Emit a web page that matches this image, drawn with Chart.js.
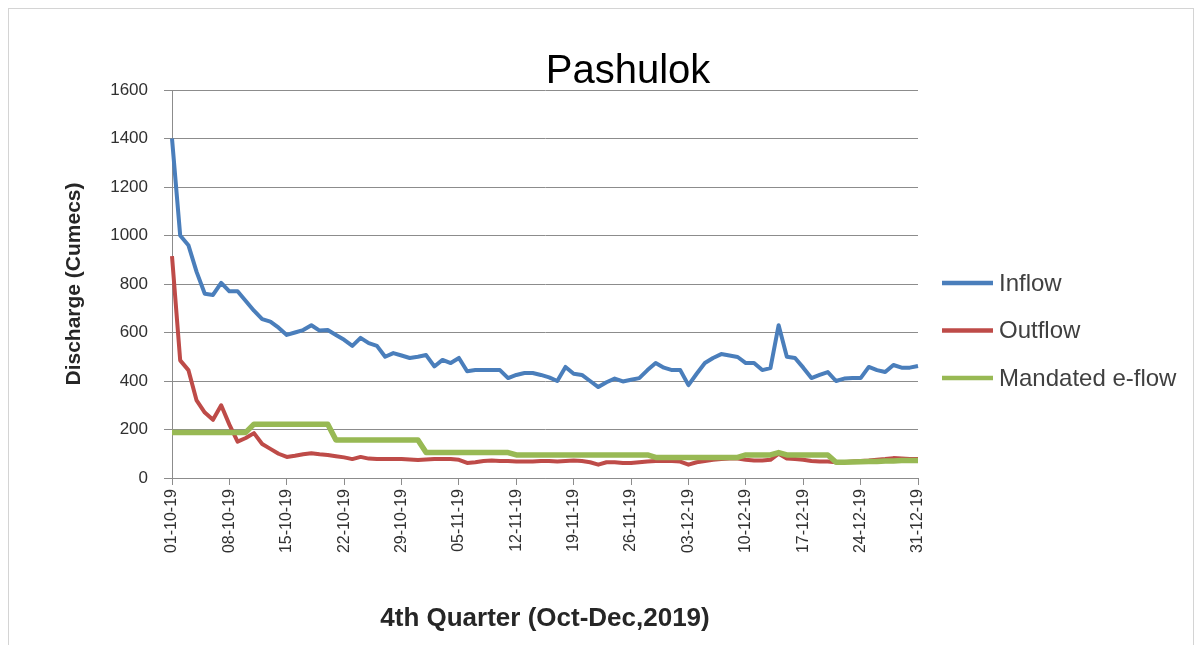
<!DOCTYPE html>
<html>
<head>
<meta charset="utf-8">
<title>Pashulok</title>
<script src="https://cdn.jsdelivr.net/npm/chart.js@4.4.0/dist/chart.umd.min.js"></script>
<style>
  html, body { margin: 0; padding: 0; background: #fff; }
  .chart__container { position: relative; width: 1203px; height: 645px; }
  .chart__frame {
    position: absolute; left: 8px; top: 8px; width: 1186px; height: 645px;
    border: 1px solid #d4d4d4; box-sizing: border-box; pointer-events: none;
  }
</style>
</head>
<body>
<div class="chart__container">
  <canvas id="chart__1" width="1203" height="645"></canvas>
  <div class="chart__frame"></div>
</div>
<script>
"use strict";

// ** Data (cumecs per day)
const dates = [
  "01-10-19", "02-10-19", "03-10-19", "04-10-19", "05-10-19", "06-10-19", "07-10-19",
  "08-10-19", "09-10-19", "10-10-19", "11-10-19", "12-10-19", "13-10-19", "14-10-19",
  "15-10-19", "16-10-19", "17-10-19", "18-10-19", "19-10-19", "20-10-19", "21-10-19",
  "22-10-19", "23-10-19", "24-10-19", "25-10-19", "26-10-19", "27-10-19", "28-10-19",
  "29-10-19", "30-10-19", "31-10-19", "01-11-19", "02-11-19", "03-11-19", "04-11-19",
  "05-11-19", "06-11-19", "07-11-19", "08-11-19", "09-11-19", "10-11-19", "11-11-19",
  "12-11-19", "13-11-19", "14-11-19", "15-11-19", "16-11-19", "17-11-19", "18-11-19",
  "19-11-19", "20-11-19", "21-11-19", "22-11-19", "23-11-19", "24-11-19", "25-11-19",
  "26-11-19", "27-11-19", "28-11-19", "29-11-19", "30-11-19", "01-12-19", "02-12-19",
  "03-12-19", "04-12-19", "05-12-19", "06-12-19", "07-12-19", "08-12-19", "09-12-19",
  "10-12-19", "11-12-19", "12-12-19", "13-12-19", "14-12-19", "15-12-19", "16-12-19",
  "17-12-19", "18-12-19", "19-12-19", "20-12-19", "21-12-19", "22-12-19", "23-12-19",
  "24-12-19", "25-12-19", "26-12-19", "27-12-19", "28-12-19", "29-12-19", "30-12-19",
  "31-12-19",
];

const inflow = [
  1400, 1000, 960, 850, 760, 755, 805, 770, 770, 730,
  690, 655, 645, 620, 590, 600, 610, 630, 608, 610,
  590, 570, 545, 578, 556, 545, 500, 515, 505, 495,
  500, 507, 460, 487, 474, 495, 440, 445, 445, 445,
  445, 412, 425, 433, 433, 425, 415, 400, 458, 430,
  425, 400, 375, 395, 410, 398, 405, 412, 445, 474,
  455, 445, 445, 383, 430, 474, 495, 511, 505, 499,
  474, 474, 445, 453, 630, 500, 495, 455, 412, 425,
  437, 400, 410, 412, 412, 458, 445, 437, 466, 455,
  455, 462,
];

const outflow = [
  915, 485, 445, 320, 270, 240, 300, 220, 150, 165,
  185, 140, 120, 100, 87, 92, 98, 102, 98, 95,
  90, 85, 78, 87, 80, 78, 78, 78, 78, 76,
  74, 76, 78, 78, 78, 75, 62, 65, 70, 72,
  70, 70, 68, 68, 68, 70, 70, 68, 70, 72,
  70, 65, 55, 65, 65, 62, 62, 65, 68, 70,
  70, 70, 68, 55, 65, 70, 75, 78, 80, 80,
  75, 72, 72, 75, 100, 80, 78, 75, 70, 68,
  68, 65, 65, 68, 70, 72, 75, 78, 82, 80,
  78, 78,
];

const eflow = [
  188, 188, 188, 188, 188, 188, 188, 188, 188, 188,
  222, 222, 222, 222, 222, 222, 222, 222, 222, 222,
  157, 157, 157, 157, 157, 157, 157, 157, 157, 157,
  157, 105, 105, 105, 105, 105, 105, 105, 105, 105,
  105, 105, 95, 95, 95, 95, 95, 95, 95, 95,
  95, 95, 95, 95, 95, 95, 95, 95, 95, 85,
  85, 85, 85, 85, 85, 85, 85, 85, 85, 85,
  95, 95, 95, 95, 105, 95, 95, 95, 95, 95,
  95, 65, 65, 66, 67, 68, 68, 70, 70, 72,
  72, 72,
];

const yTicks = [0, 200, 400, 600, 800, 1000, 1200, 1400, 1600];
const labelStep = 7;

// ** Styles
const FONT = "'Liberation Sans', Arial, sans-serif";
const GRID = "#8c8c8c";
const TEXT = "#404040";

// ** Plugins
const bgColor = {
  id: "bgColor",
  beforeDraw: (chart) => {
    const { ctx, width, height } = chart;
    ctx.save();
    ctx.fillStyle = "#ffffff";
    ctx.fillRect(0, 0, width, height);
    ctx.restore();
  },
};

const titleAndLegend = {
  id: "titleAndLegend",
  afterDraw: (chart) => {
    const { ctx } = chart;
    ctx.save();
    // title
    ctx.fillStyle = "#000";
    ctx.font = `40px ${FONT}`;
    ctx.textAlign = "center";
    ctx.textBaseline = "middle";
    ctx.fillText("Pashulok", 628, 72);

    // legend
    ctx.font = `24px ${FONT}`;
    ctx.textAlign = "left";
    chart.data.datasets.forEach((ds, i) => {
      const y = 283 + i * 47.5;
      ctx.strokeStyle = ds.borderColor;
      ctx.lineWidth = 4.5;
      ctx.beginPath();
      ctx.moveTo(942, y);
      ctx.lineTo(993, y);
      ctx.stroke();
      ctx.fillStyle = TEXT;
      ctx.fillText(ds.label, 999, y + 1);
    });
    ctx.restore();
  },
};

// ** Chart
const canvas1 = document.querySelector("#chart__1");
const chart = new Chart(canvas1.getContext("2d"), {
  type: "line",
  data: {
    labels: dates,
    datasets: [
      { label: "Inflow", data: inflow, borderColor: "#4a7ebb", borderWidth: 4, order: 2 },
      { label: "Outflow", data: outflow, borderColor: "#be4b48", borderWidth: 4, order: 1 },
      { label: "Mandated e-flow", data: eflow, borderColor: "#98b954", borderWidth: 5.5, order: 0 },
    ],
  },
  options: {
    responsive: false,
    animation: false,
    layout: { padding: { left: 60, top: 90, right: 285, bottom: 11 } },
    elements: { point: { radius: 0 }, line: { tension: 0, borderJoinStyle: "round" } },
    plugins: {
      legend: { display: false },
      title: { display: false },
      tooltip: { enabled: false },
    },
    scales: {
      x: {
        type: "category",
        offset: false,
        grid: {
          drawOnChartArea: false,
          tickLength: 7,
          color: (c) => (c.index % labelStep === 0 ? GRID : "rgba(0,0,0,0)"),
        },
        border: { color: GRID },
        ticks: {
          autoSkip: false,
          minRotation: 90,
          maxRotation: 90,
          padding: 4,
          color: "#303030",
          font: { family: FONT, size: 16 },
          callback: (v, i) => (i % labelStep === 0 ? dates[i] : ""),
        },
        title: {
          display: true,
          text: "4th Quarter (Oct-Dec,2019)",
          color: "#262626",
          font: { family: FONT, size: 26, weight: "bold" },
          padding: { top: 0, bottom: 0 },
        },
        afterFit: (scale) => {
          scale.height = 156;
        },
      },
      y: {
        min: yTicks[0],
        max: yTicks[yTicks.length - 1],
        afterBuildTicks: (scale) => {
          scale.ticks = yTicks.map((v) => ({ value: v }));
        },
        grid: { color: GRID, tickLength: 8 },
        border: { color: GRID },
        ticks: {
          padding: 16,
          color: "#303030",
          font: { family: FONT, size: 17 },
          callback: (v) => String(v),
        },
        title: {
          display: true,
          text: "Discharge (Cumecs)",
          color: "#262626",
          font: { family: FONT, size: 21, weight: "bold" },
          padding: { top: 2, bottom: 0 },
        },
        afterFit: (scale) => {
          scale.width = 112;
        },
      },
    },
  },
  plugins: [bgColor, titleAndLegend],
});
</script>
</body>
</html>
